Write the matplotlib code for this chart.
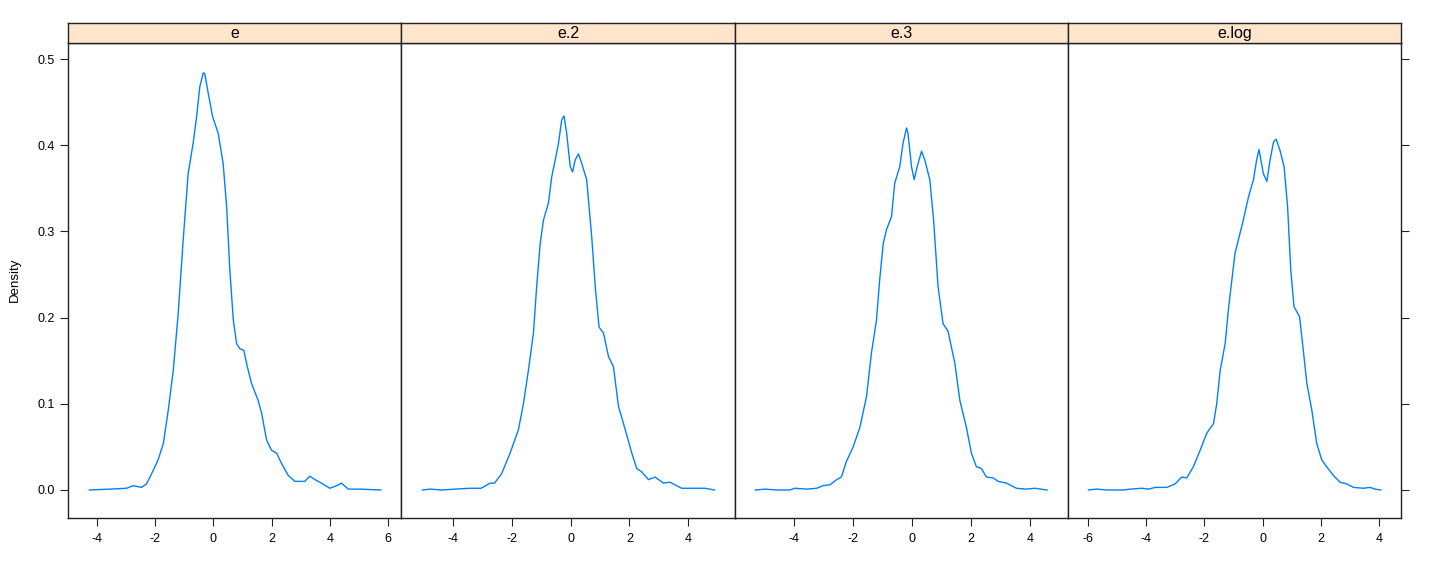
import numpy as np
import matplotlib
matplotlib.use('Agg')
import matplotlib.pyplot as plt

plt.rcParams['font.family'] = ['Liberation Sans', 'DejaVu Sans']

# panel names and x tick labels
panels = ['e', 'e.2', 'e.3', 'e.log']
xticks = [[-4, -2, 0, 2, 4, 6], [-4, -2, 0, 2, 4], [-4, -2, 0, 2, 4], [-6, -4, -2, 0, 2, 4]]
xlims = [(-4.98, 6.44), (-5.76, 5.59), (-6.01, 5.29), (-6.68, 4.74)]
yticks = [0.0, 0.1, 0.2, 0.3, 0.4, 0.5]

# density curves
e_x = [-4.25, -3.54, -2.97, -2.74, -2.46, -2.29, -2.11, -1.89, -1.71, -1.54, -1.37, -1.2, -1.03,
       -0.86, -0.69, -0.57, -0.46, -0.34, -0.29, -0.17, -0.02, 0.17, 0.34, 0.46, 0.57, 0.69, 0.8,
       0.91, 1.05, 1.17, 1.31, 1.54, 1.66, 1.83, 2.0, 2.17, 2.34, 2.57, 2.8, 3.14, 3.31, 3.49, 3.71,
       4.0, 4.23, 4.4, 4.63, 5.03, 5.75]
e_y = [0, 0.001, 0.002, 0.005, 0.003, 0.007, 0.019, 0.035, 0.054, 0.093, 0.139, 0.205, 0.29,
       0.367, 0.402, 0.433, 0.468, 0.484, 0.483, 0.46, 0.433, 0.414, 0.379, 0.329, 0.255, 0.197, 0.17,
       0.164, 0.162, 0.143, 0.124, 0.104, 0.089, 0.058, 0.046, 0.043, 0.031, 0.017, 0.01, 0.01, 0.016,
       0.012, 0.008, 0.002, 0.005, 0.008, 0.001, 0.001, 0]

e2_x = [-5.03, -4.77, -4.37, -3.92, -3.41, -3.04, -2.73, -2.58, -2.34, -2.05, -1.77, -1.6, -1.43,
        -1.26, -1.15, -1.03, -0.92, -0.75, -0.64, -0.52, -0.41, -0.3, -0.22, -0.13, -0.01, 0.07, 0.16,
        0.27, 0.38, 0.55, 0.72, 0.84, 0.97, 1.12, 1.29, 1.46, 1.63, 1.86, 2.08, 2.25, 2.42, 2.65, 2.87,
        3.16, 3.38, 3.78, 4.23, 4.57, 4.89]
e2_y = [0, 0.001, 0, 0.001, 0.002, 0.002, 0.008, 0.008, 0.019, 0.043, 0.07, 0.1, 0.139,
        0.182, 0.236, 0.286, 0.313, 0.333, 0.363, 0.383, 0.402, 0.429, 0.434, 0.414, 0.375, 0.369, 0.383,
        0.39, 0.379, 0.36, 0.294, 0.236, 0.189, 0.182, 0.155, 0.143, 0.097, 0.07, 0.043, 0.025, 0.021,
        0.012, 0.015, 0.008, 0.009, 0.002, 0.002, 0.002, 0]

e3_x = [-5.32, -4.99, -4.6, -4.15, -3.98, -3.58, -3.24, -3.02, -2.79, -2.56, -2.4, -2.23, -2.0,
        -1.77, -1.55, -1.38, -1.21, -1.1, -0.98, -0.87, -0.7, -0.59, -0.42, -0.31, -0.19, -0.14, -0.02,
        0.07, 0.17, 0.32, 0.43, 0.6, 0.73, 0.88, 1.05, 1.22, 1.45, 1.62, 1.84, 2.01, 2.18, 2.35, 2.52,
        2.75, 2.92, 3.2, 3.54, 3.88, 4.16, 4.58]
e3_y = [0, 0.001, 0, 0, 0.002, 0.001, 0.002, 0.005, 0.006, 0.012, 0.015, 0.033, 0.05,
        0.073, 0.108, 0.159, 0.197, 0.244, 0.286, 0.302, 0.317, 0.356, 0.375, 0.402, 0.42, 0.414, 0.375,
        0.36, 0.375, 0.393, 0.383, 0.36, 0.313, 0.236, 0.193, 0.184, 0.147, 0.104, 0.073, 0.043, 0.027,
        0.025, 0.015, 0.014, 0.01, 0.008, 0.002, 0.001, 0.002, 0]

elog_x = [-5.98, -5.69, -5.35, -4.78, -4.55, -4.15, -3.92, -3.69, -3.29, -3.01, -2.78, -2.61, -2.38,
          -2.15, -1.92, -1.69, -1.58, -1.46, -1.29, -1.18, -1.06, -0.95, -0.78, -0.67, -0.49, -0.32,
          -0.21, -0.13, 0.02, 0.14, 0.25, 0.37, 0.46, 0.59, 0.73, 0.85, 0.96, 1.07, 1.26, 1.39, 1.51,
          1.68, 1.85, 2.02, 2.19, 2.42, 2.65, 2.88, 3.11, 3.45, 3.68, 3.85, 4.05]
elog_y = [0, 0.001, 0, 0, 0.001, 0.002, 0.001, 0.003, 0.003, 0.007, 0.015, 0.014, 0.027,
          0.046, 0.066, 0.077, 0.1, 0.139, 0.17, 0.209, 0.244, 0.275, 0.298, 0.313, 0.34, 0.36,
          0.383, 0.395, 0.367, 0.358, 0.383, 0.404, 0.407, 0.394, 0.375, 0.329, 0.255, 0.213, 0.201,
          0.162, 0.124, 0.093, 0.054, 0.035, 0.027, 0.017, 0.009, 0.007, 0.003, 0.002, 0.003, 0.001, 0]

curves = [(e_x, e_y), (e2_x, e2_y), (e3_x, e3_y), (elog_x, elog_y)]

W, H = 1440, 576
fig = plt.figure(figsize=(W / 100, H / 100), dpi=100)

edges = [68, 401, 735, 1068, 1401]
top, bottom, strip_top = 43, 518, 23

for i in range(4):
    x0, x1 = edges[i], edges[i + 1]
    ax = fig.add_axes([x0 / W, 1 - bottom / H, (x1 - x0) / W, (bottom - top) / H])
    xs, ys = curves[i]
    ax.plot(xs, ys, color='#0080ff', lw=1.0, solid_joinstyle='round')
    ax.set_xlim(*xlims[i])
    ax.set_ylim(-0.0325, 0.5186)
    ax.set_xticks(xticks[i])
    ax.set_xticklabels([str(t) for t in xticks[i]])
    ax.set_yticks(yticks)
    ax.tick_params(axis='both', direction='out', length=5.8, width=0.8, labelsize=9,
                   color='#222222')
    ax.tick_params(axis='x', pad=5)
    ax.tick_params(axis='y', pad=4, left=(i == 0), labelleft=(i == 0), right=(i == 3), labelright=False)
    for s in ax.spines.values():
        s.set_linewidth(1.0)
        s.set_color('#222222')

    # strip
    sax = fig.add_axes([x0 / W, 1 - top / H, (x1 - x0) / W, (top - strip_top) / H])
    sax.set_facecolor('#ffe5cc')
    sax.set_xticks([])
    sax.set_yticks([])
    for s in sax.spines.values():
        s.set_linewidth(1.0)
        s.set_color('#222222')
    sax.text(0.5, 0.47, panels[i], ha='center', va='center', fontsize=11.5, transform=sax.transAxes)

fig.text(15 / W, 1 - 280 / H, 'Density', rotation=90, ha='center', va='center', fontsize=9.5)

fig.savefig('out.png', dpi=100)
